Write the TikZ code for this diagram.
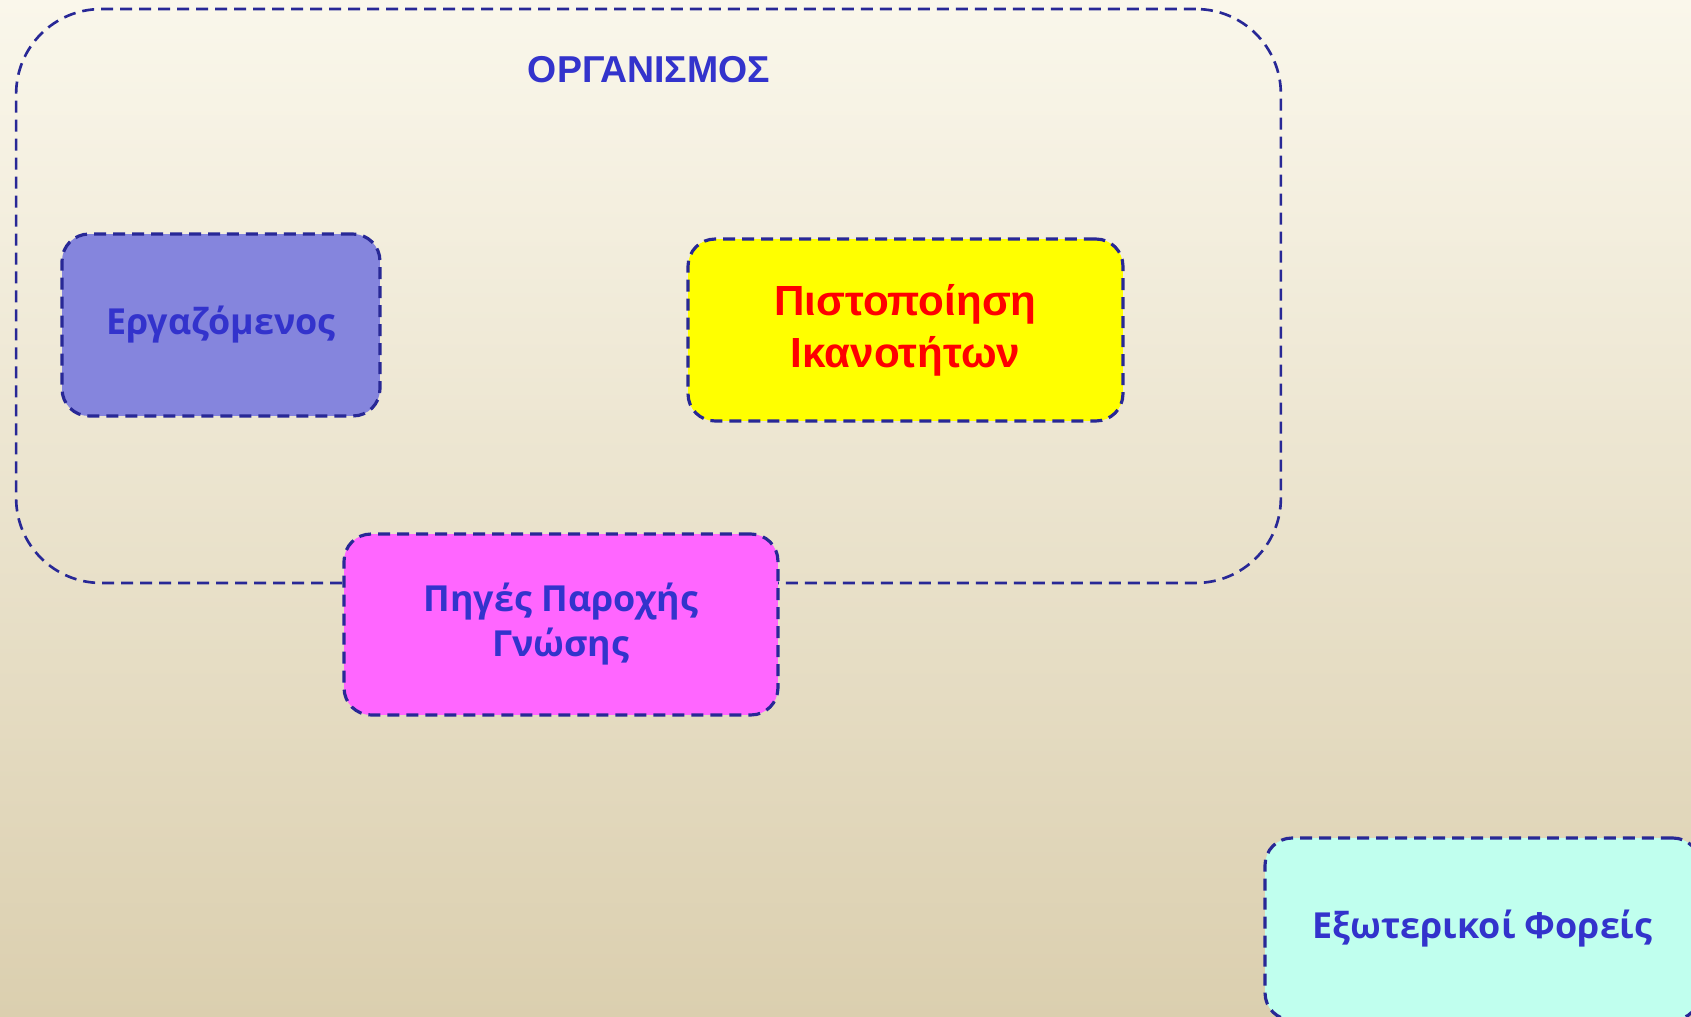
\documentclass[tikz,border=0pt]{standalone}
\usepackage{fontspec}
\setmainfont{Liberation Sans}
\newfontfamily\boxfont{Open Sans}
\usetikzlibrary{positioning}

\definecolor{bgtop}{RGB}{250,247,235}
\definecolor{bgbot}{RGB}{219,207,175}
\definecolor{edgeblue}{RGB}{40,40,150}
\definecolor{textblue}{RGB}{51,51,204}
\definecolor{workerfill}{RGB}{133,133,221}
\definecolor{certfill}{RGB}{255,255,0}
\definecolor{certtext}{RGB}{255,0,0}
\definecolor{sourcefill}{RGB}{255,102,255}
\definecolor{extfill}{RGB}{192,255,238}

\tikzset{
    dashbox/.style={draw=edgeblue, line width=1.8pt,
        dash pattern=on 0.24cm off 0.14cm,
        rounded corners=0.54cm, align=center,
        minimum width=8.7cm, minimum height=3.64cm},
    boxtext/.style={font=\boxfont\bfseries\fontsize{20.4}{25.6}\selectfont, text=textblue},
    titletext/.style={font=\bfseries\fontsize{21.3}{29.6}\selectfont}
}

\begin{document}
\begin{tikzpicture}[x=0.02cm, y=-0.02cm]

\fill[top color=bgtop, bottom color=bgbot] (0,0) rectangle (1691,1017);
\useasboundingbox (0,0) rectangle (1691,1017);

% Organisation frame
\node[draw=edgeblue,
    line width=1.5pt,
    dash pattern=on 0.24cm off 0.14cm,
    rounded corners=1.7cm,
    minimum width=25.3cm,
    minimum height=11.48cm] (org) at (648.5,296) {};

\node[titletext, text=textblue] (orgtitle) at (649,70) {ΟΡΓΑΝΙΣΜΟΣ};

\node[dashbox,
    boxtext,
    fill=workerfill,
    minimum width=6.36cm] (worker) at (221,325) {Εργαζόμενος};

\node[dashbox,
    font=\bfseries\fontsize{24}{29.6}\selectfont,
    fill=certfill,
    text=certtext] (cert) at (905.5,330) {Πιστοποίηση\\Ικανοτήτων};

% Knowledge sources, over the frame edge
\node[dashbox,
    boxtext,
    fill=sourcefill,
    minimum width=8.68cm,
    minimum height=3.62cm] (sources) at (561,624.5) {Πηγές Παροχής\\Γνώσης};

\node[dashbox,
    boxtext,
    fill=extfill] (external) at (1482.5,929) {Εξωτερικοί Φορείς};

\end{tikzpicture}
\end{document}
